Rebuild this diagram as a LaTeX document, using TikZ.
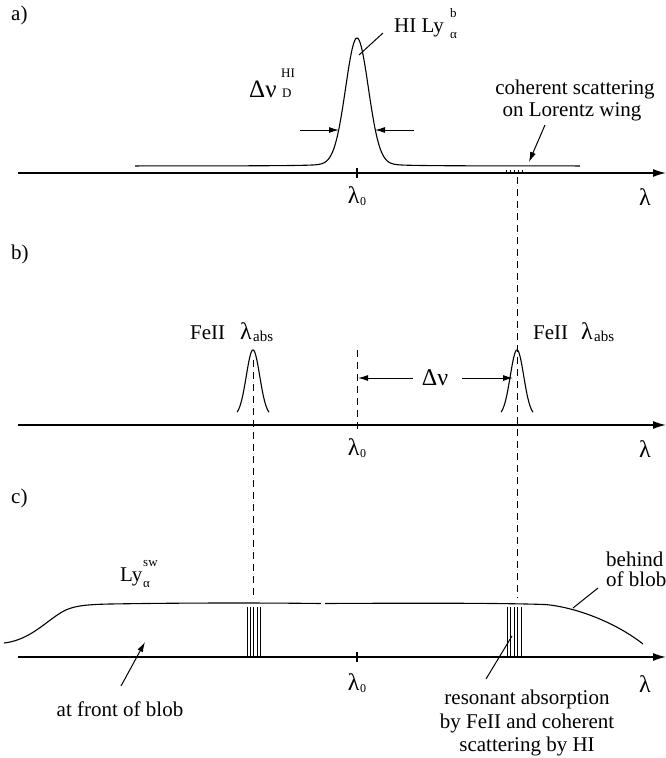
\documentclass[tikz,border=0pt]{standalone}
\usepackage{fontspec}
\setmainfont{Liberation Serif}
\usetikzlibrary{arrows.meta}
\newcommand\fsz[1]{\fontsize{#1}{#1}\selectfont}
\newcommand\biglam{{\fsz{24}λ}}
\newcommand\lamsub[1]{\biglam\kern0.5pt\raisebox{-2.5pt}{\fsz{12}#1}}
\begin{document}
\begin{tikzpicture}[x=1pt,y=-1pt,
  every node/.style={inner sep=0pt, font=\fsz{21}},
  curve/.style={line width=1.1pt},
  axis/.style={line width=1.3pt, -{Latex[length=13pt,width=8pt]}},
  tick/.style={line width=1.1pt},
  hatch/.style={line width=0.8pt},
  dsh/.style={line width=1pt, dash pattern=on 7pt off 5pt},
  lead/.style={line width=1pt},
  arr/.style={line width=1pt, -{Latex[length=10pt,width=6pt]}},
]
\useasboundingbox (0,0) rectangle (666,758);

% ---------------- panel a ----------------
\node[anchor=base west] (la) at (11,20) {a)};
\coordinate (aL) at (18,173); \coordinate (aR) at (666,173);
\draw[axis] (aL) -- (aR);
\coordinate (a0t) at (357,168); \coordinate (a0b) at (357,178);
\draw[tick] (a0t) -- (a0b);
\node (a0) at (357,196) {\lamsub{0}};
\node (alam) at (645,197) {\biglam};
\draw[curve] plot[domain=135:580, samples=400]
  (\x, {166 - 124*exp(-min(((\x-357)/16)^2,30)) - 4/(1+((\x-357)/25)^2)});
\coordinate (wl0) at (300,130); \coordinate (wl1) at (339,130);
\draw[arr] (wl0) -- (wl1);
\coordinate (wr0) at (414,130); \coordinate (wr1) at (375,130);
\draw[arr] (wr0) -- (wr1);
\node[anchor=base west] (dnu) at (249,97) {\fsz{25}Δν};
\node[anchor=base west] (dhi) at (281,77) {\fsz{13}HI};
\node[anchor=base west] (dd) at (282,97) {\fsz{13}D};
\node[anchor=base west] (hily) at (394,32) {HI Ly};
\node[anchor=base west] (hib) at (450,17) {\fsz{13}b};
\node[anchor=base west] (hia) at (450,38) {\fsz{13}α};
\coordinate (hl0) at (359,55); \coordinate (hl1) at (383,33);
\draw[lead] (hl0) -- (hl1);
\node[anchor=base] (coh1) at (575,94) {coherent scattering};
\node[anchor=base] (coh2) at (572,116) {on Lorentz wing};
\coordinate (ca0) at (545,125); \coordinate (ca1) at (529,162);
\draw[arr] (ca0) -- (ca1);
\foreach \i in {506,510,514,518,522} \draw[hatch] (\i,169.5) -- (\i,173);
\coordinate (dr0) at (517,177); \coordinate (dr1) at (517,598);
\draw[dsh] (dr0) -- (dr1);

% ---------------- panel b ----------------
\node[anchor=base west] (lb) at (11,259) {b)};
\coordinate (bL) at (18,425); \coordinate (bR) at (666,425);
\draw[axis] (bL) -- (bR);
\coordinate (b0t) at (357,350); \coordinate (b0b) at (357,430);
\draw[dsh] (b0t) -- (b0b);
\node (b0) at (357,448) {\lamsub{0}};
\node (blam) at (645,449) {\biglam};
\draw[curve] plot[domain=237:269, samples=80] (\x, {416 - 66*exp(-((\x-253)/9.5)^2)});
\draw[curve] plot[domain=501:533, samples=80] (\x, {416 - 66*exp(-((\x-517)/9.5)^2)});
\coordinate (dl0) at (253,360); \coordinate (dl1) at (253,598);
\draw[dsh] (dl0) -- (dl1);
\node[anchor=base west] (fe1) at (190,339) {FeII};
\node[anchor=base west] (fl1) at (240,339) {\biglam};
\node[anchor=base west] (fa1) at (253,341) {\fsz{15}abs};
\node[anchor=base west] (fe2) at (533,339) {FeII};
\node[anchor=base west] (fl2) at (581,339) {\biglam};
\node[anchor=base west] (fa2) at (594,341) {\fsz{15}abs};
\node (bdnu) at (435,378) {\fsz{24}Δν};
\coordinate (bl0) at (413,378); \coordinate (bl1) at (358,378);
\draw[arr] (bl0) -- (bl1);
\coordinate (br0) at (462,378); \coordinate (br1) at (513,378);
\draw[arr] (br0) -- (br1);

% ---------------- panel c ----------------
\node[anchor=base west] (lc) at (11,503) {c)};
\coordinate (cL) at (18,657); \coordinate (cR) at (666,657);
\draw[axis] (cL) -- (cR);
\coordinate (c0t) at (357,652); \coordinate (c0b) at (357,662);
\draw[tick] (c0t) -- (c0b);
\node (c0) at (357,683) {\lamsub{0}};
\node (clam) at (645,684) {\biglam};
\draw[curve] (4,643) .. controls (30,640) and (45,622) .. (62,612)
  .. controls (72,606) and (85,604.5) .. (110,604)
  .. controls (200,602.5) and (280,603) .. (321,603.5);
\draw[curve] (325,603.5) .. controls (420,603) and (500,603) .. (545,604.5)
  .. controls (575,607) and (615,622) .. (643,644);
\foreach \i in {247,250.3,253.6,256.9,260.2} \draw[hatch] (\i,607) -- (\i,657);
\foreach \i in {507,510.5,514,517.5,521} \draw[hatch] (\i,607) -- (\i,657);
\node[anchor=base west] (ly) at (120,581) {Ly};
\node[anchor=base west] (lysw) at (143,566) {\fsz{13}sw};
\node[anchor=base west] (lya) at (143,587) {\fsz{13}α};
\node[anchor=base west] (beh1) at (606,566) {behind};
\node[anchor=base west] (beh2) at (606,586) {of blob};
\coordinate (bh0) at (573,608); \coordinate (bh1) at (598,588);
\draw[lead] (bh0) -- (bh1);
\node[anchor=base] (front) at (120,716) {at front of blob};
\coordinate (fr0) at (121,686); \coordinate (fr1) at (145,642);
\draw[arr] (fr0) -- (fr1);
\node[anchor=base] (res1) at (527,704) {resonant absorption};
\node[anchor=base] (res2) at (527,728) {by FeII and coherent};
\node[anchor=base] (res3) at (527,751) {scattering by HI};
\coordinate (rs0) at (486,679); \coordinate (rs1) at (512,636);
\draw[lead] (rs0) -- (rs1);
\end{tikzpicture}
\end{document}
